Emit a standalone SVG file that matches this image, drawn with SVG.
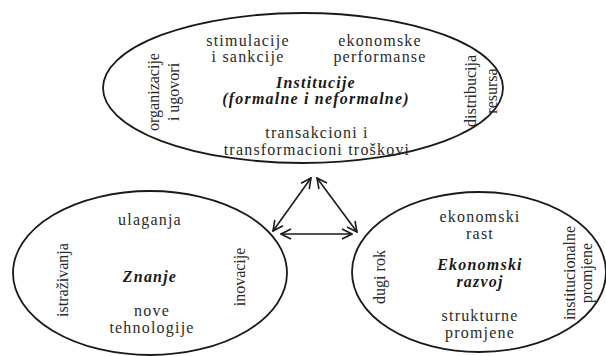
<svg xmlns="http://www.w3.org/2000/svg" width="606" height="356" viewBox="0 0 606 356">
<style>
.e{fill:none;stroke:#1a1a1a;stroke-width:1.8}
.t{font-family:"Liberation Serif","Times New Roman",serif;font-size:16px;fill:#2a2a2a;letter-spacing:1.2px;text-anchor:middle}
.v{letter-spacing:0}
.b{font-weight:bold;font-style:italic;fill:#1a1a1a}
.c{stroke:#1a1a1a;stroke-width:1.6;fill:none;marker-start:url(#a);marker-end:url(#a)}
</style>
<defs>
<marker id="a" viewBox="0 0 12 12" refX="11" refY="6" markerWidth="12" markerHeight="12" markerUnits="userSpaceOnUse" orient="auto-start-reverse">
<path d="M1,1 L11,6 L1,11" fill="none" stroke="#1a1a1a" stroke-width="1.6"/>
</marker>
</defs>
<rect width="606" height="356" fill="#fff"/>
<g id="institucije">
<ellipse class="e" cx="303" cy="88" rx="200" ry="75"/>
<text class="t" x="248" y="46">stimulacije</text>
<text class="t" x="248" y="62">i sankcije</text>
<text class="t" x="380" y="46">ekonomske</text>
<text class="t" x="380" y="62">performanse</text>
<text class="t b" x="316" y="88">Institucije</text>
<text class="t b" x="316" y="104">(formalne i neformalne)</text>
<text class="t" x="317" y="138">transakcioni i</text>
<text class="t" x="317" y="155">transformacioni troškovi</text>
<text class="t v" transform="translate(159,92) rotate(-90)">organizacije</text>
<text class="t v" transform="translate(179,92) rotate(-90)">i ugovori</text>
<text class="t v" transform="translate(476,91) rotate(-90)">distribucija</text>
<text class="t v" transform="translate(497,91) rotate(-90)">resursa</text>
</g>
<g id="znanje">
<ellipse class="e" cx="150" cy="273" rx="137" ry="82"/>
<text class="t" x="150" y="225">ulaganja</text>
<text class="t b" x="150" y="282">Znanje</text>
<text class="t" x="152" y="316">nove</text>
<text class="t" x="152" y="333">tehnologije</text>
<text class="t v" transform="translate(68,280) rotate(-90)">istraživanja</text>
<text class="t v" transform="translate(245,277) rotate(-90)">inovacije</text>
</g>
<g id="razvoj">
<ellipse class="e" cx="479" cy="272" rx="127" ry="80"/>
<text class="t" x="480" y="222">ekonomski</text>
<text class="t" x="480" y="239">rast</text>
<text class="t b" x="480" y="270">Ekonomski</text>
<text class="t b" x="480" y="287">razvoj</text>
<text class="t" x="480" y="321">strukturne</text>
<text class="t" x="480" y="338">promjene</text>
<text class="t v" transform="translate(385,277) rotate(-90)">dugi rok</text>
<text class="t v" transform="translate(575,273) rotate(-90)">institucionalne</text>
<text class="t v" transform="translate(592,273) rotate(-90)">promjene</text>
</g>
<g id="connectors">
<line class="c" x1="273" y1="231" x2="311" y2="178"/>
<line class="c" x1="317" y1="178" x2="357" y2="232"/>
<line class="c" x1="281" y1="234" x2="352" y2="234"/>
</g>
</svg>
